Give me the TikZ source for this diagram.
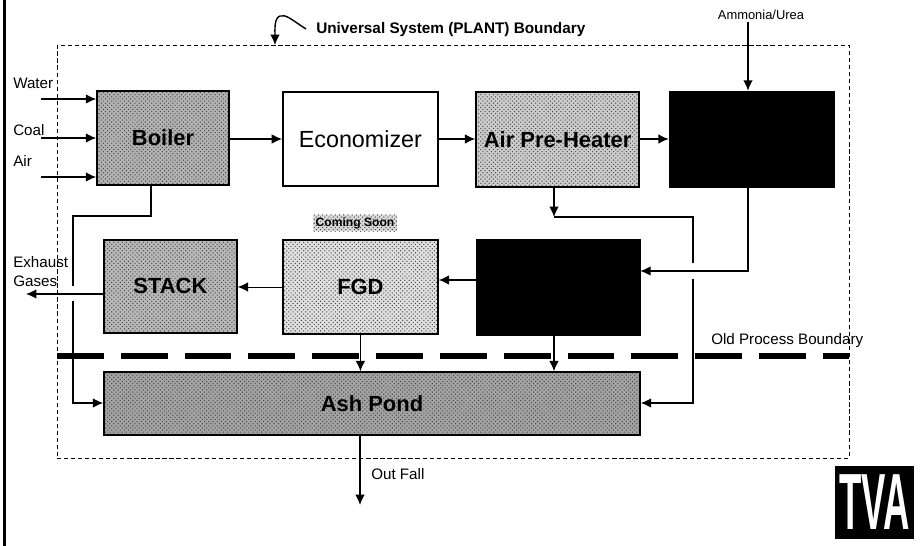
\documentclass[tikz,border=0pt]{standalone}
\usepackage{fontspec}
\setmainfont{Liberation Sans}
\usetikzlibrary{arrows.meta,patterns}
\begin{document}
\begin{tikzpicture}[
  >={Latex[length=2.6mm,width=2.4mm]},
  unit/.style={draw,line width=1.1pt,inner sep=0pt,font=\fontsize{15.6}{18}\selectfont\bfseries},
  speckle/.style={preaction={fill=#1},pattern=crosshatch dots,pattern color=black!70},
  hidden/.style={draw,fill=black,inner sep=0pt},
  flow/.style={->,line width=1pt},
  pipe/.style={line width=1pt},
  lab/.style={font=\fontsize{10.8}{12}\selectfont,inner sep=0pt}
]
  \useasboundingbox (0,0) rectangle (23.05,13.65);
  \draw[line width=2.6pt] (0.11,0) -- (0.11,13.65);

  \node[draw,densely dashed,line width=0.6pt,minimum width=19.8cm,minimum height=10.325cm] (plant) at (11.325,7.36) {};

  % top row
  \node[unit,speckle=black!30,minimum width=3.3cm,minimum height=2.35cm] (boiler) at (4.075,10.2) {Boiler};
  \node[unit,minimum width=3.875cm,minimum height=2.35cm,font=\fontsize{16.6}{18}\selectfont] (econ) at (9.01,10.175) {Economizer};
  \node[unit,speckle=black!20,minimum width=4.075cm,minimum height=2.375cm] (aph) at (13.94,10.16) {Air Pre-Heater};
  \node[hidden,minimum width=4.125cm,minimum height=2.4cm] (scr) at (18.79,10.175) {};

  % second row
  \node[unit,speckle=black!28,minimum width=3.325cm,minimum height=2.325cm] (stack) at (4.26,6.49) {STACK};
  \node[unit,speckle=black!12,minimum width=3.875cm,minimum height=2.35cm] (fgd) at (9.01,6.475) {FGD};
  \node[hidden,minimum width=4.1cm,minimum height=2.4cm] (esp) at (13.95,6.475) {};
  \node[unit,speckle=black!36,minimum width=13.4cm,minimum height=1.575cm] (ash) at (9.3,3.56) {Ash Pond};

  \node[speckle=black!15,inner sep=2pt,font=\fontsize{8.6}{10}\selectfont\bfseries] (soon) at (8.875,8.075) {Coming Soon};

  % labels
  \node[lab,anchor=west,font=\fontsize{10.9}{12}\selectfont\bfseries] (universal) at (7.9,12.9) {Universal System (PLANT) Boundary};
  \node[lab,font=\fontsize{9.2}{11}\selectfont] (ammonia) at (19.025,13.275) {Ammonia/Urea};
  \node[lab,anchor=west] (water) at (0.325,11.575) {Water};
  \node[lab,anchor=west] (coal) at (0.325,10.4) {Coal};
  \node[lab,anchor=west] (air) at (0.325,9.625) {Air};
  \node[lab,anchor=west] (exhaust) at (0.325,7.1) {Exhaust};
  \node[lab,anchor=west] (gases) at (0.325,6.625) {Gases};
  \node[lab,anchor=west] (fall) at (9.275,1.8) {Out Fall};
  \node[lab,anchor=west] (oldlab) at (17.775,5.125) {Old Process Boundary};

  % free ends and bends
  \coordinate (waterin) at (1.025,11.175);
  \coordinate (coalin) at (1.025,10.2);
  \coordinate (airin) at (1.025,9.225);
  \coordinate (ammoniain) at (18.7,13.1);
  \coordinate (scrturn) at (18.7,6.875);
  \coordinate (aphdrop) at (13.85,8.225);
  \coordinate (aphturn) at (17.325,8.225);
  \coordinate (aphgap) at (17.325,7.075);
  \coordinate (aphback) at (17.325,6.675);
  \coordinate (aphlow) at (17.325,3.575);
  \coordinate (boildrop) at (3.775,8.25);
  \coordinate (boilturn) at (1.825,8.25);
  \coordinate (boilgap) at (1.825,6.5);
  \coordinate (boilback) at (1.825,6.125);
  \coordinate (boillow) at (1.825,3.575);
  \coordinate (gasout) at (0.65,6.3);
  \coordinate (espflow) at (11.5,6.65);
  \coordinate (outfall) at (9.0,1.025);
  \coordinate (oldwest) at (1.425,4.75);
  \coordinate (oldeast) at (21.225,4.75);

  \foreach \pt in {waterin,coalin,airin}
    \draw[flow] (\pt) -- (boiler.west |- \pt);
  \draw[flow] (boiler.east |- econ) -- (econ);
  \draw[flow] (econ) -- (aph.west |- econ);
  \draw[flow] (aph.east |- econ) -- (scr);
  \draw[flow] (ammoniain) -- (ammoniain |- scr.north);
  \draw[flow] (ammoniain |- scr.south) -- (scrturn) -- (esp.east |- scrturn);
  \draw[flow] (aphdrop |- aph.south) -- (aphdrop);
  \draw[pipe] (aphdrop) -- (aphturn) -- (aphgap);
  \draw[flow] (aphback) -- (aphlow) -- (ash.east |- aphlow);
  \draw[pipe] (boildrop |- boiler.south) -- (boildrop) -- (boilturn) -- (boilgap);
  \draw[flow] (boilback) -- (boillow) -- (ash.west |- boillow);
  \draw[flow] (stack.west |- gasout) -- (gasout);
  \draw[flow,line width=0.7pt] (fgd) -- (stack.east |- fgd);
  \draw[flow] (esp.west |- espflow) -- (fgd.east |- espflow);

  \draw[line width=4.2pt,dash pattern=on 33.3pt off 12.1pt] (oldwest) -- (oldeast);

  \draw[flow] (fgd.south) -- (fgd.south |- ash.north);
  \draw[flow] (aphdrop |- esp.south) -- (aphdrop |- ash.north);
  \draw[flow] (outfall |- ash.south) -- (outfall);

  \draw[flow] (7.65,12.925) .. controls (7.3,13.15) and (7.15,13.3) .. (7.0,13.25)
    .. controls (6.85,13.2) and (6.875,12.9) .. (6.875,12.525);

  % logo
  \node[fill=black,inner sep=0pt,minimum width=1.975cm,minimum height=1.825cm,text=white,font=\bfseries] (tva) at (21.86,1.0875)
    {\resizebox{50pt}{39pt}{TVA}};
\end{tikzpicture}
\end{document}
